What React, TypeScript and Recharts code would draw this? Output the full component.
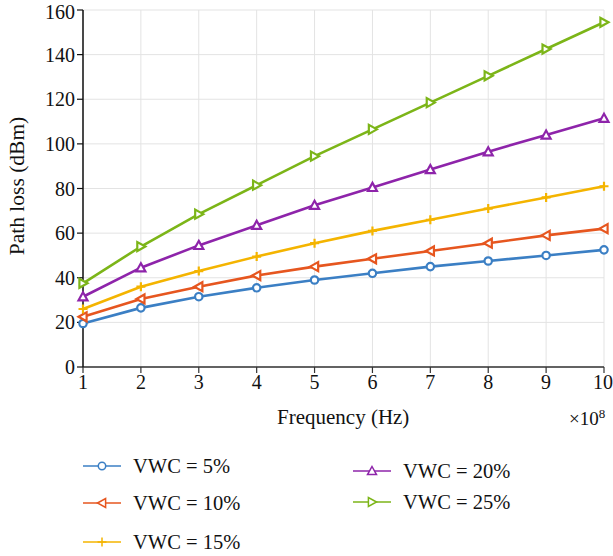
import React from 'react';
import { LineChart, Line, XAxis, YAxis, CartesianGrid } from 'recharts';

const frequencies = [1, 2, 3, 4, 5, 6, 7, 8, 9, 10];
const vwc5 = [19.5, 26.5, 31.5, 35.5, 39, 42, 45, 47.5, 50, 52.5];
const vwc10 = [22.5, 30.5, 36, 41, 45, 48.5, 52, 55.5, 59, 62];
const vwc15 = [26, 36, 43, 49.5, 55.5, 61, 66, 71, 76, 81];
const vwc20 = [31.5, 44.5, 54.5, 63.5, 72.5, 80.5, 88.5, 96.5, 104, 111.5];
const vwc25 = [37.5, 54, 68.5, 81.5, 94.5, 106.5, 118.5, 130.5, 142.5, 154.5];
const yTicks = [0, 20, 40, 60, 80, 100, 120, 140, 160];

const seriesNames = ['VWC = 5%', 'VWC = 10%', 'VWC = 15%', 'VWC = 20%', 'VWC = 25%'];
const seriesKeys = ['v5', 'v10', 'v15', 'v20', 'v25'];
const seriesColors = ['#3b7fc4', '#e6561f', '#f4b400', '#8e24aa', '#7cb518'];
const seriesMarkers = ['circle', 'left', 'plus', 'up', 'right'];

const data = frequencies.map((f, i) => ({
  f,
  v5: vwc5[i],
  v10: vwc10[i],
  v15: vwc15[i],
  v20: vwc20[i],
  v25: vwc25[i],
}));

const FONT = '"Liberation Serif", "DejaVu Serif", serif';

function Marker({ type, cx, cy, color, s = 4.5, sw = 2 }: { type: string; cx: number; cy: number; color: string; s?: number; sw?: number }) {
  const common = { stroke: color, strokeWidth: sw, fill: '#fff' };
  if (type === 'circle') return <circle cx={cx} cy={cy} r={s - 0.8} {...common} />;
  if (type === 'plus')
    return (
      <path d={`M${cx - s},${cy}H${cx + s}M${cx},${cy - s}V${cy + s}`} stroke={color} strokeWidth={sw} fill="none" />
    );
  let pts = '';
  if (type === 'up') pts = `${cx},${cy - s} ${cx + s},${cy + s * 0.8} ${cx - s},${cy + s * 0.8}`;
  if (type === 'left') pts = `${cx - s},${cy} ${cx + s * 0.8},${cy - s} ${cx + s * 0.8},${cy + s}`;
  if (type === 'right') pts = `${cx + s},${cy} ${cx - s * 0.8},${cy - s} ${cx - s * 0.8},${cy + s}`;
  return <polygon points={pts} {...common} />;
}

const makeDot = (type: string, color: string) => (props: any) => {
  const { cx, cy, index } = props;
  if (cx == null || cy == null) return <g key={index} />;
  return (
    <g key={index}>
      <Marker type={type} cx={cx} cy={cy} color={color} s={4.5} sw={2.2} />
    </g>
  );
};

const legendPos = [
  { x: 83, y: 466 },
  { x: 83, y: 503 },
  { x: 83, y: 542 },
  { x: 353, y: 471 },
  { x: 353, y: 502 },
];

export default function App() {
  return (
    <div style={{ position: 'absolute', left: 0, top: 0, width: 613, height: 556, background: '#fff', fontFamily: FONT }}>
      <LineChart
        width={613}
        height={556}
        data={data}
        margin={{ top: 10, right: 9, left: 0, bottom: 159 }}
        style={{ fontFamily: FONT }}
      >
        <CartesianGrid stroke="#e3e3e3" strokeWidth={1} />
        <XAxis
          dataKey="f"
          type="number"
          domain={[1, 10]}
          ticks={frequencies}
          height={30}
          tickSize={6}
          tick={{ fill: '#111', fontSize: 20, fontFamily: FONT }}
          stroke="#333"
          axisLine={{ stroke: '#333', strokeWidth: 1.5 }}
          tickLine={{ stroke: '#333', strokeWidth: 1.2 }}
        />
        <YAxis
          type="number"
          domain={[0, 160]}
          ticks={yTicks}
          width={83}
          tickSize={6}
          tick={{ fill: '#111', fontSize: 20, fontFamily: FONT }}
          axisLine={{ stroke: '#111', strokeWidth: 1.5 }}
          tickLine={{ stroke: '#111', strokeWidth: 1.2 }}
        />
        {seriesKeys.map((k, i) => (
          <Line
            key={k}
            dataKey={k}
            name={seriesNames[i]}
            stroke={seriesColors[i]}
            strokeWidth={2.6}
            dot={makeDot(seriesMarkers[i], seriesColors[i])}
            isAnimationActive={false}
          />
        ))}
      </LineChart>
      <div style={{ position: 'absolute', left: 277, top: 405, fontSize: 21, lineHeight: '24px', color: '#111', whiteSpace: 'nowrap' }}>
        Frequency (Hz)
      </div>
      <div style={{ position: 'absolute', left: 569, top: 402, fontSize: 19, lineHeight: '24px', color: '#111', whiteSpace: 'nowrap' }}>
        ×10<sup style={{ fontSize: 13 }}>8</sup>
      </div>
      <div
        style={{
          position: 'absolute',
          left: 17,
          top: 186,
          fontSize: 21.5,
          color: '#111',
          whiteSpace: 'nowrap',
          transform: 'translate(-50%, -50%) rotate(-90deg)',
        }}
      >
        Path loss (dBm)
      </div>
      {seriesNames.map((n, i) => (
        <div key={n} style={{ position: 'absolute', left: legendPos[i].x, top: legendPos[i].y - 12, height: 24, display: 'flex', alignItems: 'center' }}>
          <svg width={40} height={24} style={{ display: 'block' }}>
            <line x1={0} y1={12} x2={38} y2={12} stroke={seriesColors[i]} strokeWidth={1.5} />
            <Marker type={seriesMarkers[i]} cx={19} cy={12} color={seriesColors[i]} s={4.5} sw={1.5} />
          </svg>
          <span style={{ marginLeft: 10, fontSize: 20.5, color: '#111', whiteSpace: 'nowrap' }}>{n}</span>
        </div>
      ))}
    </div>
  );
}
